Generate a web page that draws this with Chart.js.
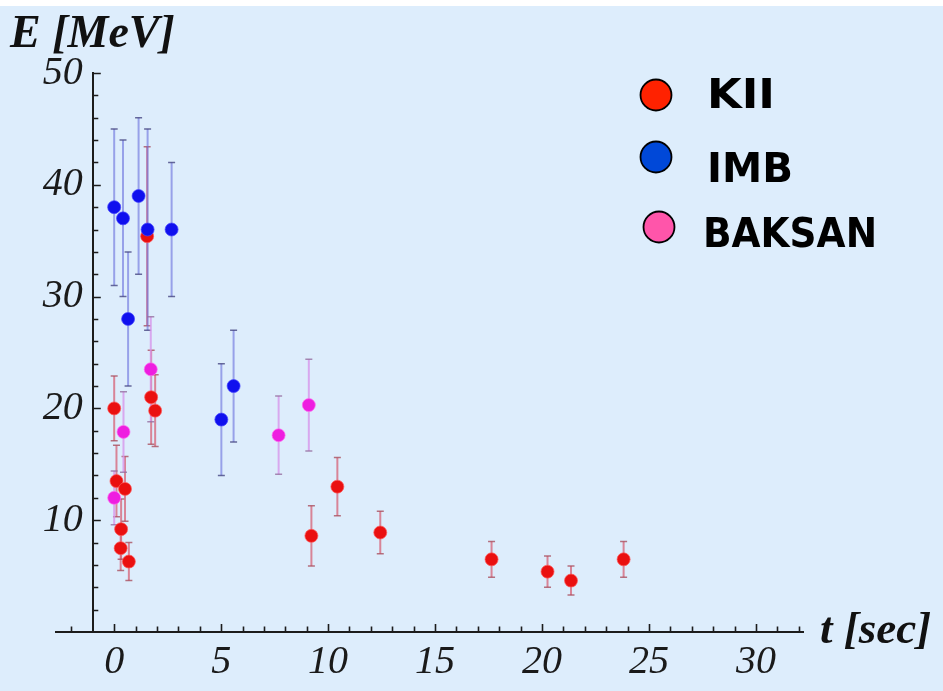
<!DOCTYPE html>
<html>
<head>
<meta charset="utf-8">
<title>SN1987A neutrino events</title>
<script src="https://cdn.jsdelivr.net/npm/chart.js@4.4.0/dist/chart.umd.min.js"></script>
<style>
  html, body { margin: 0; padding: 0; background: #ddedfc; }
  #wrap { width: 943px; height: 691px; position: relative; }
  canvas { display: block; }
</style>
</head>
<body>
<div id="wrap"><canvas id="c" width="943" height="691"></canvas></div>
<script>
// Detector names shown in the legend
const detectors = ['KII', 'IMB', 'BAKSAN'];

// Kamiokande II: arrival time [s], energy [MeV], energy uncertainty [MeV]
const kiiTime   = [0, 0.107, 0.303, 0.324, 0.507, 0.686, 1.541, 1.728, 1.915, 9.219, 10.433, 12.439, 17.641, 20.257, 21.355, 23.814];
const kiiEnergy = [20.0, 13.5, 7.5, 9.2, 12.8, 6.3, 35.4, 21.0, 19.8, 8.6, 13.0, 8.9, 6.5, 5.4, 4.6, 6.5];
const kiiError  = [2.9, 3.2, 2.0, 2.7, 2.9, 1.7, 8.0, 4.2, 3.2, 2.7, 2.6, 1.9, 1.6, 1.4, 1.3, 1.6];

// IMB
const imbTime   = [0, 0.412, 0.650, 1.141, 1.562, 2.684, 5.010, 5.582];
const imbEnergy = [38, 37, 28, 39, 36, 36, 19, 22];
const imbError  = [7, 7, 6, 7, 9, 6, 5, 5];

// Baksan
const baksanTime   = [0, 0.435, 1.710, 7.687, 9.099];
const baksanEnergy = [12.0, 17.9, 23.5, 17.6, 20.3];
const baksanError  = [2.4, 3.6, 4.7, 3.5, 4.1];

// Labelled ticks on each axis, and the spacing of the unlabelled ones
const xTickLabels = [0, 5, 10, 15, 20, 25, 30];
const yTickLabels = [10, 20, 30, 40, 50];
const xMinorStep = 1;
const yMinorStep = 2;

function points(t, e, err) {
  return t.map((v, i) => ({ x: v, y: e[i], err: err[i] }));
}

const AXIS = '#1c1c1c';
const tickFont = { family: "'Liberation Serif', 'DejaVu Serif', serif", size: 40, style: 'italic', lineHeight: 1.2 };
const X_MIN = -2.72, X_MAX = 32.2;
const Y_AXIS_AT = -1;        // the energy axis crosses the time axis at t = -1
const Y_LABELS_AT = -1.47;   // right edge of the energy tick numbers
const X_LABELS_AT = -0.55;   // top of the time tick numbers' line box

// error bars drawn through the chart's own scales, behind the markers
const errorBars = {
  id: 'errorBars',
  beforeDatasetsDraw(chart) {
    const { ctx } = chart;
    const xs = chart.scales.x, ys = chart.scales.y;
    chart.data.datasets.forEach((ds, i) => {
      if (!chart.isDatasetVisible(i)) return;
      ctx.save();
      ds.data.forEach(p => {
        const px = xs.getPixelForValue(p.x);
        const top = ys.getPixelForValue(p.y + p.err);
        const bot = ys.getPixelForValue(p.y - p.err);
        ctx.strokeStyle = ds.errorColor;
        ctx.lineWidth = 2;
        ctx.beginPath();
        ctx.moveTo(px, top);
        ctx.lineTo(px, bot);
        ctx.stroke();
        ctx.strokeStyle = ds.capColor;
        ctx.lineWidth = 1.5;
        ctx.beginPath();
        ctx.moveTo(px - 3.5, top); ctx.lineTo(px + 3.5, top);
        ctx.moveTo(px - 3.5, bot); ctx.lineTo(px + 3.5, bot);
        ctx.stroke();
      });
      ctx.restore();
    });
  }
};

// inward tick marks along both axes: longer on the labelled values
const tickMarks = {
  id: 'tickMarks',
  afterDraw(chart) {
    const { ctx } = chart;
    const xs = chart.scales.x, ys = chart.scales.y;
    const xAxisPx = ys.getPixelForValue(0);
    const yAxisPx = xs.getPixelForValue(Y_AXIS_AT);
    ctx.save();
    ctx.strokeStyle = AXIS;
    ctx.lineWidth = 1.6;
    ctx.lineCap = 'butt';
    ctx.beginPath();
    for (let v = Math.ceil(xs.min / xMinorStep) * xMinorStep; v <= xs.max; v += xMinorStep) {
      if (v === Y_AXIS_AT) continue;
      const px = Math.round(xs.getPixelForValue(v)) + 0.5;
      const len = xTickLabels.includes(v) ? 8 : 5.5;
      ctx.moveTo(px, xAxisPx);
      ctx.lineTo(px, xAxisPx - len);
    }
    for (let v = yMinorStep; v <= ys.max; v += yMinorStep) {
      const py = Math.round(ys.getPixelForValue(v)) + 0.5;
      const len = yTickLabels.includes(v) ? 8 : 5.5;
      ctx.moveTo(yAxisPx, py);
      ctx.lineTo(yAxisPx + len, py);
    }
    ctx.stroke();
    ctx.restore();
  }
};

// page background with the thin white band along the top
const background = {
  id: 'background',
  beforeDraw(chart) {
    const { ctx, width, height } = chart;
    ctx.save();
    ctx.fillStyle = '#ddedfc';
    ctx.fillRect(0, 0, width, height);
    ctx.fillStyle = '#ffffff';
    ctx.fillRect(0, 0, width, 6);
    ctx.restore();
  }
};

// axis titles and the detector key
const annotations = {
  id: 'annotations',
  afterDraw(chart) {
    const { ctx } = chart;
    ctx.save();
    ctx.fillStyle = '#111';
    ctx.textBaseline = 'alphabetic';
    ctx.textAlign = 'left';
    ctx.font = "italic bold 46px 'Liberation Serif', serif";
    ctx.fillText('E [MeV]', 10, 47);
    ctx.font = "italic bold 45px 'Liberation Serif', serif";
    ctx.fillText('t [sec]', 820, 643);

    // marker centre, text origin and text width of each key entry
    const key = [
      { cx: 656, cy: 95, tx: 707, ty: 108, w: 68 },
      { cx: 656, cy: 157, tx: 707, ty: 182, w: 86 },
      { cx: 659, cy: 227, tx: 703, ty: 247, w: 174 }
    ];
    ctx.font = "bold 40px 'DejaVu Sans', sans-serif";
    chart.data.datasets.forEach((ds, i) => {
      const k = key[i];
      ctx.beginPath();
      ctx.arc(k.cx, k.cy, 15.5, 0, Math.PI * 2);
      ctx.fillStyle = ds.legendColor;
      ctx.fill();
      ctx.lineWidth = 1.8;
      ctx.strokeStyle = '#000';
      ctx.stroke();
      ctx.fillStyle = '#000';
      const w = ctx.measureText(ds.label).width;
      ctx.save();
      ctx.translate(k.tx, k.ty);
      ctx.scale(k.w / w, 1);
      ctx.fillText(ds.label, 0, 0);
      ctx.restore();
    });
    ctx.restore();
  }
};

const chart = new Chart(document.getElementById('c'), {
  type: 'scatter',
  data: {
    datasets: [
      {
        label: detectors[0],
        data: points(kiiTime, kiiEnergy, kiiError),
        backgroundColor: '#ea1010',
        borderColor: 'rgba(255,90,90,0.7)',
        legendColor: '#ff2200',
        errorColor: 'rgba(215,105,125,0.8)',
        capColor: 'rgba(170,80,95,0.8)',
        order: 2
      },
      {
        label: detectors[1],
        data: points(imbTime, imbEnergy, imbError),
        backgroundColor: '#1010ee',
        borderColor: 'rgba(70,70,255,0.7)',
        legendColor: '#0048d8',
        errorColor: 'rgba(105,110,220,0.6)',
        capColor: 'rgba(70,70,130,0.8)',
        order: 1
      },
      {
        label: detectors[2],
        data: points(baksanTime, baksanEnergy, baksanError),
        backgroundColor: '#ee1ee0',
        borderColor: 'rgba(255,110,240,0.7)',
        legendColor: '#ff55aa',
        errorColor: 'rgba(215,150,235,0.8)',
        capColor: 'rgba(150,110,160,0.8)',
        order: 3
      }
    ]
  },
  options: {
    responsive: false,
    animation: false,
    devicePixelRatio: 1,
    layout: { padding: { left: 56, right: 140, top: 73, bottom: 59 } },
    elements: { point: { radius: 6.5, hoverRadius: 6.5, borderWidth: 1 } },
    plugins: { legend: { display: false }, tooltip: { enabled: false } },
    scales: {
      // axis lines
      x: {
        type: 'linear', min: X_MIN, max: X_MAX, position: { y: 0 },
        border: { display: true, color: AXIS, width: 2 },
        grid: { display: false },
        ticks: { display: false, stepSize: xMinorStep, includeBounds: false }
      },
      y: {
        type: 'linear', min: 0, max: 50, position: { x: Y_AXIS_AT },
        border: { display: true, color: AXIS, width: 2 },
        grid: { display: false },
        ticks: { display: false, stepSize: yMinorStep, includeBounds: false }
      },
      // tick numbers
      xLabels: {
        type: 'linear', axis: 'x', min: X_MIN, max: X_MAX, position: { y: X_LABELS_AT },
        border: { display: false },
        grid: { display: false, drawTicks: false },
        ticks: {
          stepSize: 5, includeBounds: false, autoSkip: false, maxRotation: 0, minRotation: 0, padding: 0,
          color: '#1a1a1a', font: tickFont,
          callback: v => xTickLabels.includes(v) ? String(v) : ''
        }
      },
      yLabels: {
        type: 'linear', axis: 'y', min: 0, max: 50, position: { x: Y_LABELS_AT },
        border: { display: false },
        grid: { display: false, drawTicks: false },
        ticks: {
          stepSize: 10, includeBounds: false, autoSkip: false, padding: 0,
          color: '#1a1a1a', font: tickFont,
          callback: v => yTickLabels.includes(v) ? String(v) : ''
        }
      }
    }
  },
  plugins: [background, errorBars, tickMarks, annotations]
});
</script>
</body>
</html>
